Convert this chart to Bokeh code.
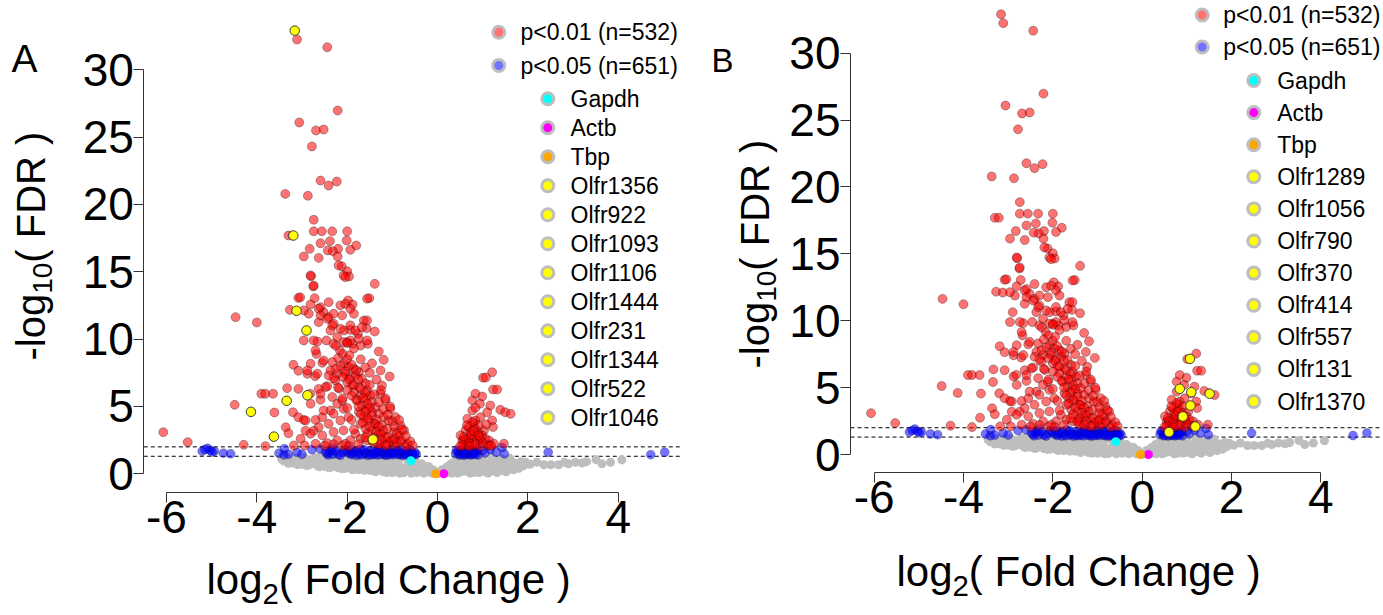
from math import pi
from bokeh.plotting import figure
from bokeh.models import Range1d, FixedTicker, Label
from bokeh.layouts import row
from bokeh.embed import file_html
from bokeh.resources import INLINE

# ---------------- data (log2 fold change, -log10 FDR) ----------------
red_pts = [
    (-3.16, 32.90), (-3.11, 32.24), (-2.44, 31.67), (-2.21, 26.97), (-3.06, 26.08), (-2.69, 25.49), (-2.52, 25.56),
    (-2.78, 24.30),
    (-2.59, 21.77), (-2.23, 21.70), (-2.41, 21.40), (-3.37, 20.78), (-2.87, 20.64), (-2.74, 18.86),
    (-3.30, 17.69), (-3.21, 17.69), (-2.74, 18.00), (-2.56, 18.00), (-2.33, 18.00), (-2.00, 18.00),
    (-2.59, 17.12), (-2.38, 17.27), (-2.20, 16.70), (-2.01, 17.32), (-1.80, 16.95), (-2.83, 16.70), (-2.96, 16.13),
    (-2.63, 16.03), (-2.32, 16.53), (-2.43, 16.58), (-2.21, 16.13), (-1.93, 16.63),
    (-2.12, 15.41), (-2.00, 15.04), (-1.96, 14.65), (-1.39, 14.10), (-2.80, 14.67), (-2.75, 13.90), (-3.08, 13.06),
    (-3.04, 13.10), (-2.72, 13.04), (-2.41, 12.74), (-2.15, 12.50), (-1.98, 12.87), (-1.88, 12.57), (-1.51, 13.04),
    (-3.27, 12.17), (-3.12, 12.10), (-2.85, 11.88), (-2.59, 12.37), (-2.52, 12.00), (-2.81, 12.57),
    (-4.47, 11.63), (-4.00, 11.23), (-2.96, 9.90), (-2.66, 9.82), (-2.90, 10.64),
    (-2.63, 11.26), (-2.41, 11.63), (-2.30, 11.14), (-2.07, 10.64), (-1.93, 10.69), (-1.63, 11.38), (-1.57, 10.81),
    (-1.39, 10.56), (-1.76, 10.39), (-2.37, 10.64),
    (-2.46, 9.90), (-2.30, 9.65), (-2.16, 9.15), (-2.00, 9.77), (-1.88, 9.65), (-1.70, 9.52), (-1.54, 9.65),
    (-2.68, 8.90), (-1.30, 9.08), (-1.19, 8.46), (-1.06, 7.22),
    (-3.19, 8.09), (-3.08, 7.65), (-2.88, 7.42), (-2.71, 7.25), (-2.81, 8.17), (-2.55, 8.24), (-2.37, 7.67),
    (-3.90, 5.94), (-3.81, 5.94), (-3.64, 5.94), (-4.49, 5.12), (-3.33, 6.36), (-3.61, 4.55),
    (-2.88, 5.83), (-3.34, 5.42), (-4.13, 4.60), (-1.43, 2.55),
    (-6.07, 3.09), (-5.53, 2.35), (-4.29, 2.15), (-3.81, 2.05), (-3.63, 2.75), (-3.36, 3.46), (-3.30, 3.01),
    (-3.18, 2.10), (-3.03, 2.60), (-2.94, 2.10),
    (-3.20, 4.57), (-3.08, 4.20), (-2.96, 4.00), (-2.70, 4.00), (-2.74, 3.20), (-2.92, 3.20), (-2.55, 4.20),
    (-2.81, 5.20), (-2.63, 6.30), (-2.44, 6.50), (-2.59, 5.50), (-2.37, 4.70), (-3.08, 6.30), (-2.82, 5.95),
    (-2.19, 15.47), (-2.08, 14.73), (-2.04, 14.60), (-2.81, 14.73), (-2.74, 13.98), (-1.56, 13.00),
    (-2.04, 12.62), (-1.93, 12.25), (-2.96, 12.13), (-2.63, 12.25), (-2.59, 11.76), (-2.44, 11.51), (-2.30, 11.88),
    (-2.11, 11.76), (-1.85, 11.88), (-1.56, 11.39),
    (-2.33, 11.02), (-2.15, 10.77), (-1.93, 11.02), (-1.82, 10.64), (-1.67, 10.89),
    (-2.74, 9.90), (-2.22, 10.15), (-2.08, 9.78), (-1.93, 9.90), (-1.74, 10.02), (-1.56, 9.90),
    (-2.70, 9.16), (-2.52, 8.42), (-2.33, 8.30), (-2.88, 7.67), (-2.66, 7.43), (-2.41, 7.30), (-2.22, 7.43),
    (-2.07, 8.17), (-1.97, 7.92), (-1.85, 7.80), (-1.74, 7.55), (-2.04, 7.43), (-1.93, 7.18), (-1.82, 7.30),
    (-1.67, 7.06), (-1.59, 6.69), (-2.00, 6.81), (-1.89, 6.56), (-1.74, 6.44), (-1.56, 6.19), (-1.48, 5.82),
    (-1.85, 6.07), (-1.70, 5.82), (-1.59, 5.57), (-1.45, 5.32), (-1.37, 4.95), (-1.78, 5.45), (-1.67, 5.08),
    (-1.56, 4.83), (-1.45, 4.58), (-1.30, 4.46), (-1.19, 4.21), (-1.08, 3.96), (-1.74, 4.58), (-1.63, 4.21),
    (-1.52, 3.96), (-1.37, 3.71), (-1.23, 3.59), (-1.11, 3.34), (-0.96, 3.10), (-0.85, 2.85), (-1.70, 3.71),
    (-1.59, 3.34), (-1.45, 3.22), (-1.30, 2.97), (-1.15, 2.73), (-1.00, 2.48), (-0.82, 2.36), (-0.67, 2.23),
    (-1.82, 2.97), (-1.70, 2.60), (-1.56, 2.48), (-1.41, 2.28), (-1.26, 2.23), (-1.11, 2.18), (-0.96, 2.16),
    (-1.93, 2.48), (-2.04, 2.23),
    (-2.26, 6.93), (-2.18, 6.32), (-2.33, 5.70), (-2.22, 5.20), (-2.11, 5.45), (-2.48, 6.44), (-2.59, 5.94),
    (-2.52, 4.70), (-2.30, 4.46), (-2.08, 4.83), (-1.97, 4.21), (-2.15, 3.96), (-2.41, 3.71), (-2.63, 3.47),
    (-2.92, 3.96), (-2.81, 2.97), (-2.55, 2.85), (-2.30, 3.10), (-2.08, 3.22), (-2.22, 2.48), (-2.44, 2.28),
    (-2.70, 2.23), (-1.26, 5.94), (-1.15, 5.45), (-1.04, 4.83), (-1.23, 6.56), (-0.93, 4.21), (-0.82, 3.59),
    (-0.74, 3.22), (-1.26, 7.67),
    (-2.20, 8.60), (-2.10, 8.90), (-2.00, 8.50), (-1.95, 8.80), (-2.15, 8.00), (-2.05, 7.60), (-1.90, 8.10),
    (-1.80, 7.70), (-2.25, 7.80), (-2.10, 7.20), (-1.95, 7.00), (-1.85, 6.60), (-1.75, 7.00), (-1.70, 6.30),
    (-1.60, 6.00), (-2.00, 6.20), (-1.90, 5.80), (-1.80, 5.50), (-1.65, 5.60), (-1.55, 5.20), (-1.50, 4.90),
    (-1.75, 5.00), (-1.60, 4.60), (-1.45, 4.30), (-1.35, 4.00), (-1.70, 4.40), (-1.55, 4.10), (-1.40, 3.70),
    (-1.30, 3.50), (-1.20, 3.20), (-1.65, 3.80), (-1.50, 3.50), (-1.35, 3.10), (-1.25, 2.90), (-1.10, 2.70),
    (-1.55, 3.00), (-1.40, 2.70), (-1.25, 2.50), (-1.05, 2.40), (-0.90, 2.30), (-1.60, 2.70), (-1.45, 2.45),
    (-1.30, 2.20), (-1.15, 2.10), (-0.95, 2.60), (-0.80, 2.50), (-0.70, 2.05), (-1.75, 2.20), (-1.85, 3.30),
    (-1.90, 4.00), (-2.00, 4.90), (-2.10, 5.60), (-2.20, 6.40), (-2.30, 7.10), (-1.50, 6.60), (-1.40, 5.90),
    (-1.30, 5.30), (-1.20, 4.80), (-1.10, 4.40), (-1.00, 3.90), (-0.95, 3.50), (-0.90, 3.00), (-1.85, 9.30),
    (-2.25, 9.50), (-2.00, 9.70), (-1.70, 8.50), (-1.60, 7.90), (-1.50, 7.50), (-1.45, 8.20), (-1.35, 7.00),
    (-1.25, 6.20), (-1.15, 5.60), (-1.05, 5.00), (-0.85, 4.00), (-0.78, 3.30), (-0.70, 2.80), (-0.60, 2.40),
    (-0.55, 2.10), (-2.50, 2.10), (-2.30, 2.20), (-2.10, 2.10), (-1.95, 2.05),
    (1.01, 7.13), (1.21, 7.54), (0.84, 5.94), (0.99, 5.74), (1.23, 6.26), (1.32, 6.26), (1.17, 5.07),
    (1.39, 4.75), (1.50, 4.57), (1.62, 4.45), (0.94, 5.20), (1.10, 4.57), (1.21, 3.96), (1.23, 3.47),
    (0.77, 4.70), (0.66, 4.09), (0.80, 3.71), (0.62, 3.22), (0.73, 2.72), (0.88, 2.97), (1.03, 3.22),
    (1.14, 2.47), (1.25, 2.23), (0.95, 2.47), (0.55, 2.47), (0.66, 2.23), (0.80, 2.10), (0.95, 2.04),
    (1.10, 2.18), (0.51, 2.85), (0.69, 3.47), (0.84, 3.96), (0.95, 4.20), (0.77, 5.45), (0.58, 2.72),
    (0.69, 2.60), (0.80, 2.72), (0.88, 2.47), (0.73, 3.10), (0.84, 3.34), (0.91, 3.59), (0.77, 3.84),
    (0.99, 2.85), (1.06, 2.60), (0.62, 2.10), (1.47, 2.23),
    (0.60, 2.50), (0.70, 2.30), (0.75, 2.90), (0.85, 2.20), (0.90, 3.10), (1.00, 2.30), (0.65, 3.60),
    (0.70, 2.05), (0.80, 3.20), (0.95, 2.70), (1.15, 2.10), (0.55, 2.15), (0.50, 2.05),
    (1.07, 7.15), (0.84, 4.91), (1.08, 3.66), (0.91, 2.84), (1.19, 2.09),
]

blue_pts = [
    (-5.21, 1.68), (-5.09, 1.90), (-5.03, 1.73), (-4.94, 1.68), (-4.74, 1.53), (-4.58, 1.48), (-5.15, 1.80),
    (-4.99, 1.62),
    (-3.51, 1.53), (-3.39, 1.86), (-3.40, 1.40), (-3.30, 1.45), (-3.11, 1.60), (-2.78, 1.78), (-2.45, 1.50),
    (-2.39, 1.60), (-2.42, 1.40), (-2.35, 1.75), (-2.05, 1.80), (-1.95, 1.50), (-1.90, 1.42), (-1.85, 1.65),
    (-1.80, 1.38), (-1.75, 1.55), (-1.70, 1.85), (-1.65, 1.45), (-1.60, 1.60), (-1.55, 1.38), (-1.50, 1.70),
    (-1.45, 1.50), (-1.40, 1.42), (-1.35, 1.62), (-1.30, 1.88), (-1.25, 1.45), (-1.20, 1.55), (-1.15, 1.38),
    (-1.10, 1.70), (-1.05, 1.50), (-1.00, 1.42), (-0.95, 1.62), (-0.90, 1.82), (-0.85, 1.45), (-0.80, 1.55),
    (-0.75, 1.38), (-0.70, 1.68), (-0.65, 1.50), (-0.60, 1.42), (-0.57, 1.62), (-0.52, 1.40), (-2.20, 1.45),
    (-2.10, 1.60), (-2.30, 1.90), (-2.60, 1.85), (-3.00, 1.45),
    (-2.48, 1.65), (-2.32, 1.45), (-2.25, 1.70), (-2.15, 1.38), (-2.00, 1.62), (-1.92, 1.80), (-1.88, 1.55),
    (-1.78, 1.70), (-1.72, 1.40), (-1.62, 1.78), (-1.58, 1.50), (-1.48, 1.40), (-1.42, 1.75), (-1.38, 1.52),
    (-1.32, 1.40), (-1.28, 1.68), (-1.22, 1.80), (-1.18, 1.45), (-1.12, 1.58), (-1.08, 1.40), (-1.02, 1.85),
    (-0.98, 1.55), (-0.92, 1.45), (-0.88, 1.70), (-0.82, 1.40), (-0.78, 1.75), (-0.72, 1.50), (-0.68, 1.40),
    (-0.62, 1.80), (-0.55, 1.50), (-0.50, 1.60), (-0.47, 1.45),
    (0.40, 1.50), (0.45, 1.65), (0.48, 1.40), (0.52, 1.80), (0.55, 1.55), (0.58, 1.38), (0.62, 1.70),
    (0.65, 1.50), (0.68, 1.42), (0.72, 1.60), (0.75, 1.85), (0.78, 1.45), (0.82, 1.55), (0.86, 1.65),
    (0.90, 1.40), (1.00, 1.75), (1.05, 1.55), (1.17, 1.80), (1.43, 1.95), (1.48, 1.48), (1.30, 1.60),
    (0.42, 1.75), (0.50, 1.45), (0.56, 1.70), (0.60, 1.45), (0.66, 1.80), (0.70, 1.55), (0.74, 1.40),
    (0.80, 1.70), (0.84, 1.45), (0.88, 1.80),
    (0.60, 1.67), (2.45, 1.60), (4.72, 1.42), (5.03, 1.60),
]

grey_pts = [
    (-3.45, 1.10), (-3.40, 0.95), (-3.35, 1.20), (-3.30, 0.90), (-3.25, 1.05), (-3.20, 0.80), (-3.15, 1.15),
    (-3.10, 0.85), (-3.05, 1.00), (-3.00, 0.70), (-2.95, 1.20), (-2.90, 0.90), (-2.85, 0.65), (-2.80, 1.05),
    (-2.75, 0.75), (-2.70, 1.20), (-2.65, 0.60), (-2.60, 0.90), (-2.55, 1.10), (-2.50, 0.55), (-2.45, 0.80),
    (-2.40, 1.00), (-2.35, 0.50), (-2.30, 0.75), (-2.25, 1.20), (-2.20, 0.45), (-2.15, 0.95), (-2.10, 0.65),
    (-2.05, 0.40), (-2.00, 1.10), (-1.95, 0.80), (-1.90, 0.35), (-1.85, 0.55), (-1.80, 1.00), (-1.75, 0.30),
    (-1.70, 0.70), (-1.65, 1.20), (-1.60, 0.45), (-1.55, 0.90), (-1.50, 0.25), (-1.45, 0.65), (-1.40, 1.05),
    (-1.35, 0.20), (-1.30, 0.50), (-1.25, 0.85), (-1.20, 0.15), (-1.15, 1.15), (-1.10, 0.40), (-1.05, 0.70),
    (-1.00, 0.10), (-0.95, 0.95), (-0.90, 0.30), (-0.85, 0.60), (-0.80, 1.20), (-0.75, 0.08), (-0.70, 0.45),
    (-0.65, 0.80), (-0.60, 0.20), (-0.55, 0.55), (-0.50, 1.00), (-0.45, 0.10), (-0.40, 0.40), (-0.35, 0.75),
    (-0.30, 0.05), (-0.25, 0.30), (-0.20, 0.55), (-0.15, 0.10), (-0.10, 0.30), (-0.05, 0.15),
    (0.05, 0.10), (0.10, 0.30), (0.15, 0.15), (0.20, 0.50), (0.25, 0.10), (0.30, 0.75), (0.35, 0.30),
    (0.40, 1.00), (0.45, 0.05), (0.50, 0.55), (0.55, 1.20), (0.60, 0.20), (0.65, 0.80), (0.70, 0.40),
    (0.75, 1.05), (0.80, 0.10), (0.85, 0.60), (0.90, 0.95), (0.95, 0.30), (1.00, 1.20), (1.05, 0.15),
    (1.10, 0.70), (1.15, 0.45), (1.20, 1.00), (1.25, 0.20), (1.30, 0.85), (1.35, 0.50), (1.40, 1.10),
    (1.45, 0.25), (1.50, 0.70), (1.55, 0.95), (1.60, 0.40), (1.70, 0.80), (1.75, 0.55), (1.85, 0.90),
    (1.90, 0.60),
    (-3.42, 1.25), (-3.28, 1.15), (-3.12, 1.00), (-2.98, 1.10), (-2.82, 0.85), (-2.68, 0.95), (-2.52, 0.80),
    (-2.38, 0.70), (-2.22, 0.90), (-2.08, 0.85), (-1.92, 0.60), (-1.78, 0.75), (-1.62, 0.70), (-1.48, 0.50),
    (-1.32, 0.70), (-1.18, 0.45), (-1.02, 0.40), (-0.88, 0.15), (-0.72, 0.25), (-0.58, 0.05), (-0.42, 0.60),
    (-0.28, 0.20), (-0.12, 0.05), (0.02, 0.02), (0.12, 0.05), (0.22, 0.25), (0.32, 0.05), (0.42, 0.45),
    (0.52, 0.15), (0.62, 0.95), (0.72, 0.05), (0.82, 0.40), (0.92, 0.10), (1.02, 0.55), (1.12, 0.05),
    (1.22, 0.35), (1.32, 0.10), (1.42, 0.55), (1.52, 0.15), (1.62, 0.75), (1.68, 0.30), (1.80, 0.40),
    (1.95, 0.85), (2.05, 0.70), (-2.60, 1.25), (-2.00, 1.25), (-1.40, 1.25), (-0.90, 1.10), (1.20, 1.25),
    (0.80, 1.25), (1.60, 1.15),
    (-3.30, 0.78), (-3.10, 0.68), (-2.90, 0.62), (-2.62, 0.52), (-2.40, 0.45), (-2.12, 0.38), (-1.88, 0.30),
    (-1.62, 0.25), (-1.38, 0.15), (-1.12, 0.10), (-0.84, 0.05),
    (2.20, 0.86), (2.36, 0.67), (2.51, 0.67), (2.68, 0.67), (2.81, 0.85), (2.90, 0.75), (3.05, 0.86),
    (3.20, 0.80), (3.30, 0.90), (3.51, 1.05), (3.64, 0.74), (3.83, 0.86), (4.08, 1.03),
]

gapdh_pt = (-0.59, 0.96)
actb_pt = (0.14, 0.00)
tbp_pt = (-0.04, 0.00)

olfr_a_names = ["Olfr1356", "Olfr922", "Olfr1093", "Olfr1106", "Olfr1444", "Olfr231", "Olfr1344", "Olfr522", "Olfr1046"]
olfr_a_pts = [(-3.16, 32.90), (-3.19, 17.69), (-3.12, 12.10), (-2.90, 10.64), (-2.88, 5.83), (-3.34, 5.42),
              (-4.13, 4.60), (-3.62, 2.76), (-1.43, 2.55)]
olfr_b_names = ["Olfr1289", "Olfr1056", "Olfr790", "Olfr370", "Olfr414", "Olfr557", "Olfr131", "Olfr1370"]
olfr_b_pts = [(1.07, 7.15), (0.84, 4.91), (1.10, 4.66), (1.51, 4.54), (1.08, 3.66), (0.91, 2.84),
              (1.19, 2.09), (0.60, 1.67)]

sig_labels = ["p<0.01 (n=532)", "p<0.05 (n=651)"]
ctrl_names = ["Gapdh", "Actb", "Tbp"]
x_ticks = [-6, -4, -2, 0, 2, 4]
y_ticks = [0, 5, 10, 15, 20, 25, 30]
fdr_lines = [2.0, 1.301]

# ---------------- styling ----------------
FONT = "Liberation Sans"
GREY = "#BEBEBE"
CTRL_COLORS = ["#00FFFF", "#FF00FF", "#FFA500"]
MID = 0.3465  # (ascent - descent) / 2 of Liberation Sans, in em

AW = {'-': 333, 'l': 222, 'o': 556, 'g': 556, '1': 556, '0': 556, '(': 333, ' ': 278, 'F': 611,
      'D': 722, 'R': 722, ')': 333, '2': 556, 'C': 722, 'h': 556, 'a': 556, 'n': 556, 'e': 556, 'd': 556}


def tw(s, size):
    return sum(AW[c] for c in s) / 1000.0 * size


def xs(pts):
    return [q[0] for q in pts]


def ys(pts):
    return [q[1] for q in pts]


def panel(cfg):
    X0, SX, Y0, SY = cfg["map"]

    def dx(px):
        return (px - X0) / SX

    def dy(py):
        return (Y0 - py) / SY

    gx0, gx1, gy0, gy1 = cfg["fig"]
    ax_px, ax_py, right_px = cfg["axes"]
    p = figure(x_range=Range1d(dx(gx0), dx(gx1)), y_range=Range1d(dy(gy1), dy(gy0)),
               frame_width=gx1 - gx0, frame_height=gy1 - gy0, min_border=0,
               output_backend="svg", toolbar_location=None)
    p.outline_line_color = None
    p.grid.visible = False
    p.background_fill_color = "white"
    p.border_fill_color = "white"

    p.xaxis.ticker = FixedTicker(ticks=x_ticks)
    p.xaxis.bounds = (x_ticks[0], x_ticks[-1])
    p.xaxis.major_label_overrides = {t: str(t) for t in x_ticks}
    p.xaxis[0].fixed_location = dy(ax_py)
    p.xaxis.major_label_standoff = -1
    p.yaxis.ticker = FixedTicker(ticks=y_ticks)
    p.yaxis.bounds = (y_ticks[0], y_ticks[-1])
    p.yaxis.major_label_overrides = {t: str(t) for t in y_ticks}
    p.yaxis[0].fixed_location = dx(ax_px)
    p.yaxis.major_label_standoff = 0
    for ax in (p.xaxis[0], p.yaxis[0]):
        ax.axis_line_color = "#333333"
        ax.axis_line_width = 1
        ax.major_tick_line_color = "#333333"
        ax.minor_tick_line_color = None
        ax.major_tick_out = 10
        ax.major_tick_in = 0
        ax.major_label_text_font = FONT
        ax.major_label_text_font_size = "46px"
        ax.major_label_text_color = "black"

    # significance thresholds (dashed), limited to the plotting region
    p.segment(x0=[dx(ax_px)] * len(fdr_lines), y0=fdr_lines, x1=[dx(right_px)] * len(fdr_lines),
              y1=fdr_lines, line_color="black", line_width=1, line_dash="4 3")

    p.scatter(xs(grey_pts), ys(grey_pts), size=9, fill_color=GREY, line_color=None)
    p.scatter(xs(blue_pts), ys(blue_pts), size=9, fill_color="blue", fill_alpha=0.55,
              line_color="black", line_alpha=0.2)
    p.scatter(xs(red_pts), ys(red_pts), size=9, fill_color="red", fill_alpha=0.55,
              line_color="black", line_alpha=0.3)
    ctrl = [gapdh_pt, actb_pt, tbp_pt]
    p.scatter(xs(ctrl), ys(ctrl), size=9, fill_color=CTRL_COLORS, line_color=None)
    p.scatter(xs(cfg["olfr"]), ys(cfg["olfr"]), size=9.5, fill_color="yellow",
              line_color="#444444", line_width=1)

    def lab(px, py, text, size, rotated=False):
        # (px, py): left end of the text baseline, in picture pixels
        if rotated:
            ax_, ay_, ang = px - MID * size, py, pi / 2
        else:
            ax_, ay_, ang = px, py - MID * size, 0.0
        p.add_layout(Label(x=dx(ax_), y=dy(ay_), text=text, text_font=FONT,
                           text_font_size="%.1fpx" % size, angle=ang,
                           text_baseline="middle", text_align="left", text_color="black"))

    def leg_text(px, py, text):
        p.add_layout(Label(x=dx(px), y=dy(py), text=text, text_font=FONT, text_font_size="23px",
                           text_baseline="middle", text_align="left", text_color="black"))

    # legend
    lx, ltx, ly = cfg["leg_top"]
    for i, (t, c) in enumerate(zip(sig_labels, ["red", "blue"])):
        yy = ly[i]
        p.scatter([dx(lx)], [dy(yy)], size=12, fill_color=c, fill_alpha=0.55,
                  line_color=GREY, line_width=3)
        leg_text(ltx, yy, t)
    gx, gtx, gy, gstep = cfg["leg_gene"]
    names = ctrl_names + cfg["olfr_names"]
    cols = CTRL_COLORS + ["yellow"] * len(cfg["olfr_names"])
    for i, (t, c) in enumerate(zip(names, cols)):
        yy = gy + i * gstep
        p.scatter([dx(gx)], [dy(yy)], size=12, fill_color=c, line_color=GREY, line_width=3)
        leg_text(gtx, yy, t)

    # panel letter
    lx0, ly0, lsz = cfg["letter_pos"]
    lab(lx0, ly0, cfg["letter"], lsz)

    # y axis label: -log10( FDR )
    bx, sy0, ysz = cfg["ylab"]
    sub = ysz * 0.7
    lab(bx, sy0, "-log", ysz, rotated=True)
    y2 = sy0 - tw("-log", ysz)
    lab(bx + ysz * 0.2, y2, "10", sub, rotated=True)
    y3 = y2 - tw("10", sub)
    lab(bx, y3, "( FDR )", ysz, rotated=True)

    # x axis label: log2( Fold Change )
    sx0, base, xsz = cfg["xlab"]
    xsub = xsz * 0.7
    lab(sx0, base, "log", xsz)
    x2 = sx0 + tw("log", xsz)
    lab(x2, base + 10, "2", xsub)
    x3 = x2 + tw("2", xsub)
    lab(x3, base, "( Fold Change )", xsz)
    return p


cfgA = dict(map=(437.0, 45.17, 473.3, 13.47), fig=(0, 700, 0, 614), axes=(143.3, 491.7, 682),
            olfr=olfr_a_pts, olfr_names=olfr_a_names,
            leg_top=(498.3, 520.0, [31.7, 65.0]), leg_gene=(547.3, 570.0, 98.3, 29.0),
            letter="A", letter_pos=(11, 72, 39), ylab=(44, 360, 40), xlab=(206, 594, 42))
cfgB = dict(map=(1141.7, 44.67, 454.0, 13.38), fig=(700, 1382, 0, 614), axes=(850.0, 471.7, 1382),
            olfr=olfr_b_pts, olfr_names=olfr_b_names,
            leg_top=(1201.7, 1222.7, [14.5, 46.5]), leg_gene=(1253.3, 1276.7, 80.0, 32.1),
            letter="B", letter_pos=(711, 71, 33), ylab=(768, 368, 40), xlab=(896, 586, 42))

pA = panel(cfgA)
pB = panel(cfgB)
layout = row(pA, pB)
open("out.html", "w").write(file_html(layout, INLINE))
